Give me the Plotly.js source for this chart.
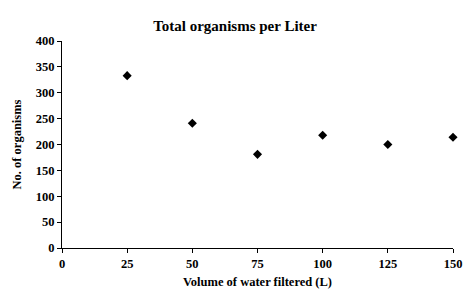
<!DOCTYPE html>
<html>
<head>
<meta charset="utf-8">
<script src="https://cdn.plot.ly/plotly-3.0.1.min.js"></script>
<style>html,body{margin:0;padding:0;background:#fff;}#chart{width:470px;height:298px;}</style>
</head>
<body>
<div id="chart"></div>
<script>
var volume = [25, 50, 75, 100, 125, 150];
var organisms = [333, 241, 181, 218, 200, 214];
var xTicks = [0, 25, 50, 75, 100, 125, 150];
var yTicks = [0, 50, 100, 150, 200, 250, 300, 350, 400];

var font = {family: '"Liberation Serif", "Times New Roman", serif', color: '#000'};

var trace = {
  x: volume, y: organisms, type: 'scatter', mode: 'markers',
  marker: {symbol: 'diamond', size: 7, color: '#000'},
  hoverinfo: 'none', cliponaxis: false
};

var layout = {
  width: 470, height: 298,
  margin: {l: 62, r: 17, t: 41, b: 50},
  paper_bgcolor: '#fff', plot_bgcolor: '#fff',
  showlegend: false,
  title: {text: '<b>Total organisms per Liter</b>', font: Object.assign({size: 15}, font), x: 0.5, xref: 'container', y: 0.915, yref: 'container', yanchor: 'middle'},
  xaxis: {
    range: [0, 150], tickvals: xTicks, ticktext: xTicks.map(function(v){return '<b>'+v+'</b>';}),
    showgrid: false, zeroline: false, showline: true, linecolor: '#000', linewidth: 1,
    ticks: 'outside', ticklen: 4, tickcolor: '#000',
    tickfont: Object.assign({size: 12.5}, font),
    title: {text: '<b>Volume of water filtered (L)</b>', font: Object.assign({size: 12.5}, font), standoff: 7}
  },
  yaxis: {
    range: [0, 400], tickvals: yTicks, ticktext: yTicks.map(function(v){return '<b>'+v+'</b>';}),
    showgrid: false, zeroline: false, showline: true, linecolor: '#000', linewidth: 1,
    ticks: 'outside', ticklen: 4, tickcolor: '#000',
    tickfont: Object.assign({size: 12.5}, font),
    title: {text: '<b>No. of organisms</b>', font: Object.assign({size: 12.5}, font), standoff: 11}
  }
};

Plotly.newPlot('chart', [trace], layout, {displayModeBar: false, staticPlot: true});
</script>
</body>
</html>
